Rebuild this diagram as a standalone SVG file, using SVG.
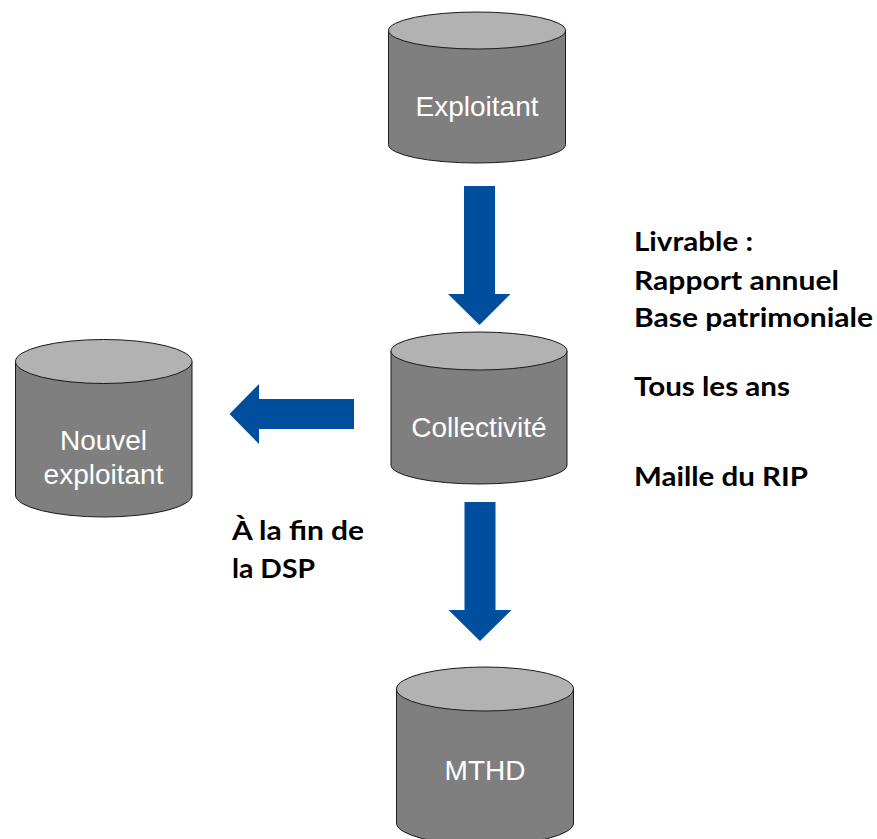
<svg xmlns="http://www.w3.org/2000/svg" width="877" height="839" viewBox="0 0 877 839">
<style>
.body{fill:#7f7f7f;stroke:#1a1a1a;stroke-width:1}
.top{fill:#b2b2b2;stroke:#1a1a1a;stroke-width:1}
.lbl{font-family:"Liberation Sans",Arial,sans-serif;font-size:28px;fill:#fff;text-anchor:middle}
.note{font-family:Lato,"Open Sans",sans-serif;font-weight:700;font-size:27px;fill:#000}
.arrow{fill:#004f9f}
</style>
<rect width="877" height="839" fill="#fff"/>
<g id="connectors">
<polygon class="arrow" points="464,186 495,186 495,294 510.5,294 479.5,325 448,294 464,294"/>
<polygon class="arrow" points="464.5,502 495.5,502 495.5,610 511.5,610 480,641 448.5,610 464.5,610"/>
<polygon class="arrow" points="354,399 259,399 259,384 229.5,414 259,444 259,429 354,429"/>
</g>
<g id="node-exploitant">
<path class="body" d="M388.500 30.500V144.500A88.500 18.500 0 0 0 565.500 144.500V30.500Z"/>
<ellipse class="top" cx="477" cy="30.500" rx="88.500" ry="18.500"/>
<text class="lbl" x="477" y="116">Exploitant</text>
</g>
<g id="node-collectivite">
<path class="body" d="M391 351V465A88 19 0 0 0 567 465V351Z"/>
<ellipse class="top" cx="479" cy="351" rx="88" ry="19"/>
<text class="lbl" x="479" y="437">Collectivité</text>
</g>
<g id="node-nouvel-exploitant">
<path class="body" d="M15.500 361.500V495A88.250 22 0 0 0 192 495V361.500Z"/>
<ellipse class="top" cx="103.750" cy="361.500" rx="88.250" ry="22"/>
<text class="lbl" x="103.500" y="450">Nouvel</text>
<text class="lbl" x="103.500" y="484">exploitant</text>
</g>
<g id="node-mthd">
<path class="body" d="M396.500 689V823A88.500 22 0 0 0 573.500 823V689Z"/>
<ellipse class="top" cx="485" cy="689" rx="88.500" ry="22"/>
<text class="lbl" x="485" y="780">MTHD</text>
</g>
<g id="notes">
<text class="note" x="634" y="251" textLength="119" lengthAdjust="spacingAndGlyphs">Livrable :</text>
<text class="note" x="634" y="289.500" textLength="205" lengthAdjust="spacingAndGlyphs">Rapport annuel</text>
<text class="note" x="634" y="327" textLength="239" lengthAdjust="spacingAndGlyphs">Base patrimoniale</text>
<text class="note" x="634" y="396" textLength="156" lengthAdjust="spacingAndGlyphs">Tous les ans</text>
<text class="note" x="634" y="486" textLength="174" lengthAdjust="spacingAndGlyphs">Maille du RIP</text>
<text class="note" x="232" y="540" textLength="132" lengthAdjust="spacingAndGlyphs">À la fin de</text>
<text class="note" x="232" y="578" textLength="83" lengthAdjust="spacingAndGlyphs">la DSP</text>
</g>
</svg>
